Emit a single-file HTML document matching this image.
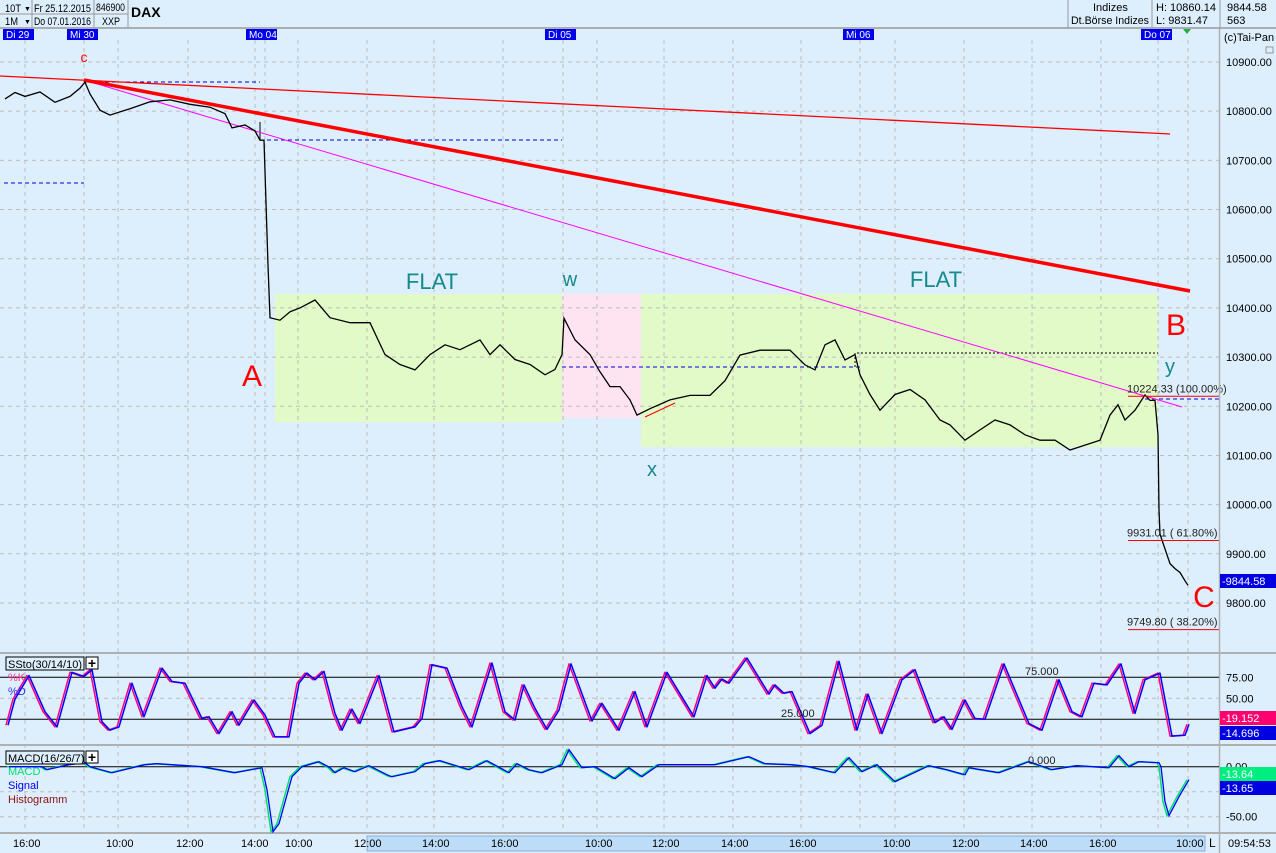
<!DOCTYPE html>
<html><head><meta charset="utf-8">
<style>
html,body{margin:0;padding:0;background:#ddeefc;}
#root{position:relative;width:1276px;height:853px;overflow:hidden;font-family:"Liberation Sans",sans-serif;}
svg{position:absolute;left:0;top:0;}
text{font-family:"Liberation Sans",sans-serif;}
</style></head>
<body>
<div id="root">
<svg id="chart" width="1276" height="853" viewBox="0 0 1276 853"></svg>
</div>
<script>
// ---- data ----
const dayLabels = ["Di 29","Mi 30","Mo 04","Di 05","Mi 06","Do 07"];
const dayPos = [0, 64, 243, 542, 840, 1138];
const timeLabels = ["16:00","10:00","12:00","14:00","10:00","12:00","14:00","16:00","10:00","12:00","14:00","16:00","10:00","12:00","14:00","16:00","10:00"];
const timePos = [20,113,183,248,292,361,429,498,592,659,728,796,890,959,1027,1096,1183];
const priceTicks = [10900,10800,10700,10600,10500,10400,10300,10200,10100,10000,9900,9800];
const priceT = [0,10,20,35,50,65,75,80,85,95,105,125,145,165,185,205,220,227,240,250,255,259,263,265,275,285,295,310,325,345,365,380,395,410,425,440,455,475,485,495,510,525,540,550,557,559,570,585,595,605,615,625,632,645,665,685,705,720,735,755,785,800,810,820,830,840,850,855,865,875,890,905,920,935,945,960,975,990,1005,1020,1035,1050,1065,1080,1095,1105,1113,1120,1130,1140,1145,1150,1153,1154,1155,1160,1165,1170,1175,1180,1183];
const priceV = [10825,10838,10830,10839,10818,10830,10847,10859,10835,10802,10792,10805,10819,10823,10814,10808,10795,10766,10772,10760,10741,10741,10487,10380,10375,10392,10400,10416,10380,10370,10370,10305,10285,10274,10305,10325,10315,10335,10305,10325,10295,10285,10264,10275,10305,10379,10335,10305,10270,10240,10240,10213,10182,10195,10213,10222,10222,10252,10304,10314,10314,10284,10274,10325,10335,10294,10305,10264,10224,10192,10224,10234,10213,10172,10162,10131,10152,10172,10162,10142,10131,10131,10111,10121,10131,10182,10203,10172,10192,10223,10212,10212,10142,9989,9940,9910,9880,9870,9862,9845,9836];
const stoT = [1,8,22,38,50,65,77,85,95,103,112,125,137,155,165,178,195,202,212,225,232,247,258,268,282,292,300,308,317,328,335,345,353,372,387,408,415,425,440,455,465,485,498,508,517,528,540,552,564,585,595,612,628,640,660,687,700,708,715,722,740,762,768,777,785,803,815,832,850,861,875,895,908,928,937,945,958,968,978,997,1022,1035,1052,1065,1075,1087,1100,1114,1128,1138,1153,1165,1178,1182];
const stoK = [18,49,77,34,16,81,76,84,22,12,16,68,28,86,70,68,26,28,8,34,18,48,30,4,4,68,80,72,82,32,12,37,20,77,10,16,26,90,86,40,16,92,34,24,66,38,13,36,91,23,44,12,58,16,81,28,77,62,73,68,98,55,66,56,58,8,18,94,12,55,8,72,84,21,28,13,48,26,25,91,20,12,72,34,28,68,66,91,32,72,80,5,6,19];
const macdT = [2,35,40,62,78,83,105,138,150,195,228,255,260,266,272,285,295,312,323,328,337,348,362,382,385,408,418,433,462,480,502,510,522,535,555,562,575,588,608,622,635,652,708,742,758,785,802,828,842,855,870,888,922,940,958,962,992,1022,1045,1070,1102,1112,1122,1132,1152,1154,1158,1162,1172,1182];
const macdV = [0,0,-3,2,4,0,-6,2,3,0,-6,-1,-23,-65,-57,-10,0,5,-1,-6,-1,-5,1,-9,-10,-5,3,6,-3,6,-6,3,-3,-6,2,17,-1,0,-12,-1,-10,2,2,10,3,2,0,-6,9,-5,2,-15,1,-3,-8,-1,-6,5,-3,1,-1,11,0,5,4,0,-35,-49,-30,-13];

// ---- scales ----
const X0 = 5;
const xS = t => X0 + t;
const pY = p => 62 + (10900 - p) * 0.4918;
const sY = v => 677.3 + (75 - v) * 0.84;
const mY = v => 766.7 - v * 1.0;

const svg = document.getElementById('chart');
const NS = 'http://www.w3.org/2000/svg';
function mk(tag, attrs, parent){
  const e = document.createElementNS(NS, tag);
  for (const k in attrs) e.setAttribute(k, attrs[k]);
  (parent || svg).appendChild(e);
  return e;
}
function txt(str, attrs, parent){ const e = mk('text', attrs, parent); e.textContent = str; return e; }

let e;
e = mk('rect',{x:0,y:0,width:1276,height:853,fill:'#ddeefc'});
 

e = mk('rect',{x:275,y:294,width:287,height:128,fill:'#e2fac8'});
 
e = mk('rect',{x:562,y:294,width:79,height:124,fill:'#fde4f0'});
 
e = mk('rect',{x:641,y:294,width:517,height:153,fill:'#e2fac8'});
 

const grid = mk('g',{});
 
priceTicks.forEach(p=>{ mk('line',{x1:0,x2:1219,y1:pY(p),y2:pY(p),stroke:'#bdbdbd','stroke-dasharray':'4,4'},grid); });
const vgrid = [25,84,118,188,255,265,298,367,434,503,563,597,664,733,801,860,895,964,1032,1101,1158,1188];
vgrid.forEach(x=>{ mk('line',{x1:x,x2:x,y1:40,y2:833,stroke:'#bdbdbd','stroke-dasharray':'4,4'},grid); });
[sY(50),mY(-25),mY(-50)].forEach(y=>{ mk('line',{x1:0,x2:1219,y1:y,y2:y,stroke:'#bdbdbd','stroke-dasharray':'4,4'},grid); });

const lv = mk('g',{});
 
[[84,260,82],[260,562,140],[4,84,183],[562,860,367],[1145,1219,399]].forEach(a=>{
  mk('line',{x1:a[0],x2:a[1],y1:a[2],y2:a[2],stroke:'#0000e0','stroke-dasharray':'4,3','stroke-width':1},lv);
});
mk('polyline',{points:'855,367 855,353 1158,353',fill:'none',stroke:'#000','stroke-dasharray':'2,2'},lv);
mk('line',{x1:260,x2:260,y1:122,y2:140,stroke:'#000'},lv);

e = mk('line',{x1:0,y1:76,x2:1170,y2:134,stroke:'#ff0000','stroke-width':1.3});
 
e = mk('line',{x1:84,y1:80,x2:1182,y2:407,stroke:'#ff00ff','stroke-width':1});
 
e = mk('line',{x1:84,y1:80,x2:1190,y2:291,stroke:'#ff0000','stroke-width':3.5});
 
e = mk('line',{x1:645,y1:417,x2:675,y2:403,stroke:'#ff0000','stroke-width':1});
 

e = mk('polyline',{points:priceT.map((t,i)=>xS(t)+','+pY(priceV[i]).toFixed(1)).join(' '),fill:'none',stroke:'#000','stroke-width':1.3});
 

const fib = [[10224.33,'10224.33 (100.00%)'],[9931.01,'9931.01 ( 61.80%)'],[9749.80,'9749.80 ( 38.20%)']];
fib.forEach(f=>{
  const y = pY(f[0]);
  e = mk('line',{x1:1128,x2:1219,y1:y+2,y2:y+2,stroke:'#ff0000'});
   
  e = txt(f[1],{x:1127,y:y-2,'font-size':11,fill:'#222'});
   
});

const labs = [['c',84,62,14,'#ff0000','wave-c-label'],['A',252,386,30,'#ff0000','wave-a-label'],['FLAT',432,289,22,'#168a8a','flat-label-1'],
 ['w',570,286,20,'#168a8a','wave-w-label'],['x',652,476,20,'#168a8a','wave-x-label'],['FLAT',936,287,22,'#168a8a','flat-label-2'],
 ['B',1176,335,30,'#ff0000','wave-b-label'],['y',1170,373,20,'#168a8a','wave-y-label'],['C',1204,607,30,'#ff0000','wave-c-big-label']];
labs.forEach(l=>{
  e = txt(l[0],{x:l[1],y:l[2],'font-size':l[3],fill:l[4],'text-anchor':'middle'});
   
});

[653,745,833].forEach(y=>{ mk('line',{x1:0,x2:1276,y1:y,y2:y,stroke:'#b0b0b0','stroke-width':2}); });
e = mk('line',{x1:1219.5,x2:1219.5,y1:28,y2:853,stroke:'#b0b0b0','stroke-width':1.5});
 

[75,25].forEach(v=>{ mk('line',{x1:0,x2:1219,y1:sY(v),y2:sY(v),stroke:'#000'}); });
mk('line',{x1:0,x2:1219,y1:mY(0),y2:mY(0),stroke:'#000'});
e = mk('polyline',{points:stoT.map((t,i)=>xS(t)+','+sY(stoK[i]).toFixed(1)).join(' '),fill:'none',stroke:'#ff0080','stroke-width':1.5,'stroke-linejoin':'round'});
 
e = mk('polyline',{points:stoT.map((t,i)=>(xS(t)+2)+','+sY(stoK[i]).toFixed(1)).join(' '),fill:'none',stroke:'#0000ff','stroke-width':1.5,'stroke-linejoin':'round'});
 
e = mk('polyline',{points:macdT.map((t,i)=>xS(t)+','+mY(macdV[i]).toFixed(1)).join(' '),fill:'none',stroke:'#00e070','stroke-width':1.5});
 
e = mk('polyline',{points:macdT.map((t,i)=>(xS(t)+2)+','+mY(macdV[i]).toFixed(1)).join(' '),fill:'none',stroke:'#0000ff','stroke-width':1.3});
 

function legendBox(label,x,y,w,name){
  const g = mk('g',{});
   
  mk('rect',{x:x,y:y,width:w,height:13,fill:'#ddeefc',stroke:'#000'},g);
  txt(label,{x:x+2,y:y+11,'font-size':11,fill:'#000'},g);
  mk('rect',{x:x+w+2,y:y,width:12,height:12,fill:'#fff',stroke:'#000'},g);
  txt('+',{x:x+w+8,y:y+11,'font-size':14,'font-weight':'bold','text-anchor':'middle',fill:'#000'},g);
}
legendBox('SSto(30/14/10)',6,657,78,'sstochastic-legend');
legendBox('MACD(16/26/7)',6,751,78,'macd-legend');
[['%K',8,681,'#ff3090','legend-k'],['%D',8,695,'#3030ff','legend-d'],['MACD',8,775,'#00e070','legend-macd'],['Signal',8,789,'#0000ff','legend-signal'],['Histogramm',8,803,'#901010','legend-histogram']].forEach(l=>{
  e = txt(l[0],{x:l[1],y:l[2],'font-size':11,fill:l[3]});  
});
[['75.000',1025,675],['25.000',781,717],['0.000',1028,764]].forEach(l=>{
  e = txt(l[0],{x:l[1],y:l[2],'font-size':11,fill:'#222'});  
});

priceTicks.forEach(p=>{
  e = txt(p.toFixed(2),{x:1226,y:pY(p)+4,'font-size':11,fill:'#000'});
   
});
[['75.00',sY(75)],['50.00',sY(50)],['0.00',mY(0)],['-50.00',mY(-50)]].forEach(l=>{
  e = txt(l[0],{x:1226,y:l[1]+4,'font-size':11,fill:'#000'});  
});
function valBox(str,y,bg,fg,name){
  const g = mk('g',{});  
  mk('rect',{x:1220,y:y,width:56,height:14,fill:bg},g);
  txt(str,{x:1222,y:y+11,'font-size':11,fill:fg},g);
}
valBox('-9844.58',574,'#0000e0','#fff','last-price-box');
valBox('-19.152',711,'#ff0070','#fff','stoch-k-value');
valBox('-14.696',726,'#0000e0','#fff','stoch-d-value');
valBox('-13.64',767,'#00ee80','#fff','macd-value');
valBox('-13.65',781,'#0000e0','#fff','signal-value');
e = txt('(c)Tai-Pan',{x:1224,y:41,'font-size':11,fill:'#000'});  
mk('rect',{x:1266,y:47,width:7,height:6,fill:'none',stroke:'#999'});

e = mk('rect',{x:367,y:836,width:838,height:15,fill:'#bcdcf8',stroke:'#8ab0d8'});
 
timeLabels.forEach((l,i)=>{
  e = txt(l,{x:timePos[i]-7,y:847,'font-size':11,fill:'#000'});
   
});
e = txt('L',{x:1209,y:847,'font-size':12,fill:'#000'});  
e = txt('09:54:53',{x:1228,y:847,'font-size':11,fill:'#000'});  

// header
const hd = mk('g',{});  
mk('rect',{x:0,y:0,width:1276,height:28,fill:'#ddeefc'},hd);
mk('line',{x1:0,x2:1276,y1:28,y2:28,stroke:'#999','stroke-width':1.5},hd);
[32,94,128,1068,1152,1220].forEach(x=>{ mk('line',{x1:x,x2:x,y1:0,y2:28,stroke:'#999'},hd); });
mk('line',{x1:0,x2:128,y1:14,y2:14,stroke:'#999'},hd);
[['10T',5,12,'period-select',16],['1M',5,25,'range-select',13]].forEach(l=>{
  e = txt(l[0],{x:l[1],y:l[2],'font-size':11,fill:'#000',textLength:l[4],lengthAdjust:'spacingAndGlyphs'});  
  txt('▼',{x:24,y:l[2]-1,'font-size':7,fill:'#000'});
});
[['Fr 25.12.2015',34,12,57],['Do 07.01.2016',34,25,57],['846900',96,11,29],['XXP',102,25,18],['Indizes',1093,11,0],['Dt.Börse Indizes',1071,24,78],['H: 10860.14',1156,11,0],['L: 9831.47',1156,24,0],['9844.58',1227,11,0],['563',1227,24,0]].forEach(l=>{
  const a = {x:l[1],y:l[2],'font-size':11,fill:'#000'};
  if (l[3]) { a.textLength = l[3]; a.lengthAdjust = 'spacingAndGlyphs'; }
  e = txt(l[0],a);  
});
e = txt('DAX',{x:131,y:17,'font-size':14,'font-weight':'bold',fill:'#000'});  

dayLabels.forEach((d,i)=>{
  const g = mk('g',{});  
  const x = dayPos[i]+3;
  mk('rect',{x:x,y:29,width:31,height:11,fill:'#0000ee'},g);
  txt(d,{x:x+3,y:38,'font-size':10,fill:'#fff'},g);
});
e = mk('polygon',{points:'1183,29 1191,29 1187,34',fill:'#20b040'});  
</script>
</body></html>
